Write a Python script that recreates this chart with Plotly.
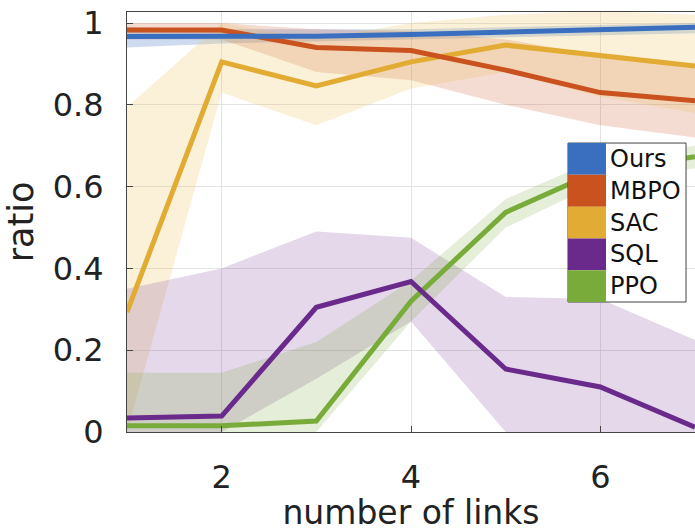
import plotly.graph_objects as go

links = [1, 2, 3, 4, 5, 6, 7]
names = ["Ours", "MBPO", "SAC", "SQL", "PPO"]
colors = ["#3A6FC0", "#C9521F", "#E2AB33", "#6A2A8C", "#79AB3A"]
bands = ["rgba(58,111,192,0.25)", "rgba(201,82,31,0.2)", "rgba(236,190,80,0.22)",
         "rgba(120,60,150,0.2)", "rgba(121,171,58,0.2)"]

ours_mean = [0.967, 0.967, 0.968, 0.972, 0.978, 0.984, 0.99]
ours_lo = [0.94, 0.95, 0.955, 0.96, 0.965, 0.97, 0.975]
ours_hi = [0.99, 0.985, 0.985, 0.985, 0.99, 0.995, 1.0]

mbpo_mean = [0.983, 0.983, 0.94, 0.933, 0.885, 0.83, 0.81]
mbpo_lo = [0.96, 0.96, 0.88, 0.86, 0.80, 0.75, 0.72]
mbpo_hi = [1.0, 1.0, 0.985, 0.98, 0.96, 0.92, 0.9]

sac_mean = [0.293, 0.905, 0.846, 0.905, 0.946, 0.92, 0.895]
sac_lo = [0.0, 0.83, 0.75, 0.84, 0.88, 0.82, 0.78]
sac_hi = [0.795, 1.0, 0.96, 1.0, 1.02, 1.03, 1.02]

sql_mean = [0.034, 0.039, 0.305, 0.368, 0.154, 0.11, 0.012]
sql_lo = [0.0, 0.0, 0.13, 0.27, 0.0, 0.0, 0.0]
sql_hi = [0.35, 0.40, 0.49, 0.475, 0.33, 0.325, 0.225]

ppo_mean = [0.015, 0.015, 0.027, 0.32, 0.537, 0.64, 0.673]
ppo_lo = [0.0, 0.0, 0.0, 0.27, 0.50, 0.61, 0.645]
ppo_hi = [0.145, 0.145, 0.22, 0.37, 0.57, 0.67, 0.70]

means = [ours_mean, mbpo_mean, sac_mean, sql_mean, ppo_mean]
los = [ours_lo, mbpo_lo, sac_lo, sql_lo, ppo_lo]
his = [ours_hi, mbpo_hi, sac_hi, sql_hi, ppo_hi]

yticks = [0, 0.2, 0.4, 0.6, 0.8, 1.0]
yticktext = ["0", "0.2", "0.4", "0.6", "0.8", "1"]
xticks = [2, 4, 6]

fig = go.Figure()
for i in range(5):
    fig.add_trace(go.Scatter(
        x=links + links[::-1], y=his[i] + los[i][::-1], fill="toself",
        fillcolor=bands[i], line=dict(width=0), mode="lines",
        hoverinfo="skip", showlegend=False))
for i in [4, 3, 2, 1, 0]:
    fig.add_trace(go.Scatter(
        x=links, y=means[i], mode="lines", line=dict(color=colors[i], width=5),
        showlegend=False, name=names[i]))

axis_common = dict(showline=True, linecolor="#444", linewidth=1, mirror=True,
                   ticks="inside", ticklen=6, tickcolor="#444", automargin=False,
                   showgrid=True, gridcolor="#e3e3e3", gridwidth=1, zeroline=False,
                   tickfont=dict(family="DejaVu Sans", size=32, color="#222"))

fig.update_layout(
    width=695, height=532,
    margin=dict(l=127, r=0, t=12, b=100),
    plot_bgcolor="white", paper_bgcolor="white",
    xaxis=dict(range=[1, 7], tickvals=xticks, ticklabelstandoff=17, **axis_common,
               title=dict(text="number of links", standoff=5,
                          font=dict(family="DejaVu Sans", size=33, color="#222"))),
    yaxis=dict(range=[0, 1.027], tickvals=yticks, ticktext=yticktext,
               ticklabelstandoff=16, **axis_common,
               title=dict(text="ratio", standoff=8,
                          font=dict(family="DejaVu Sans", size=35, color="#222"))),
    showlegend=False,
)

# legend box drawn in paper coordinates
lx0, lx1, sw_x1 = 0.7764, 0.9842, 0.8433
ly_top, row_h = 0.688, 0.0757
shapes = [dict(type="rect", xref="paper", yref="paper", x0=lx0, x1=lx1,
               y0=ly_top - 5 * row_h, y1=ly_top, fillcolor="white",
               line=dict(color="#444", width=1), layer="above")]
annotations = []
for i, nm in enumerate(names):
    y1 = ly_top - i * row_h
    y0 = y1 - row_h
    shapes.append(dict(type="rect", xref="paper", yref="paper", x0=lx0, x1=sw_x1,
                       y0=y0, y1=y1, fillcolor=colors[i], line=dict(width=0),
                       layer="above"))
    annotations.append(dict(text=nm, xref="paper", yref="paper", x=sw_x1 + 0.004,
                            y=(y0 + y1) / 2, xanchor="left", yanchor="middle",
                            showarrow=False,
                            font=dict(family="DejaVu Sans", size=24, color="#111")))
fig.update_layout(shapes=shapes, annotations=annotations)

fig.write_html(
    "out.html",
    config={"displayModeBar": False},
    post_script="document.documentElement.style.margin='0';"
                "document.body.style.margin='0';"
                "document.body.style.overflow='hidden';",
)
